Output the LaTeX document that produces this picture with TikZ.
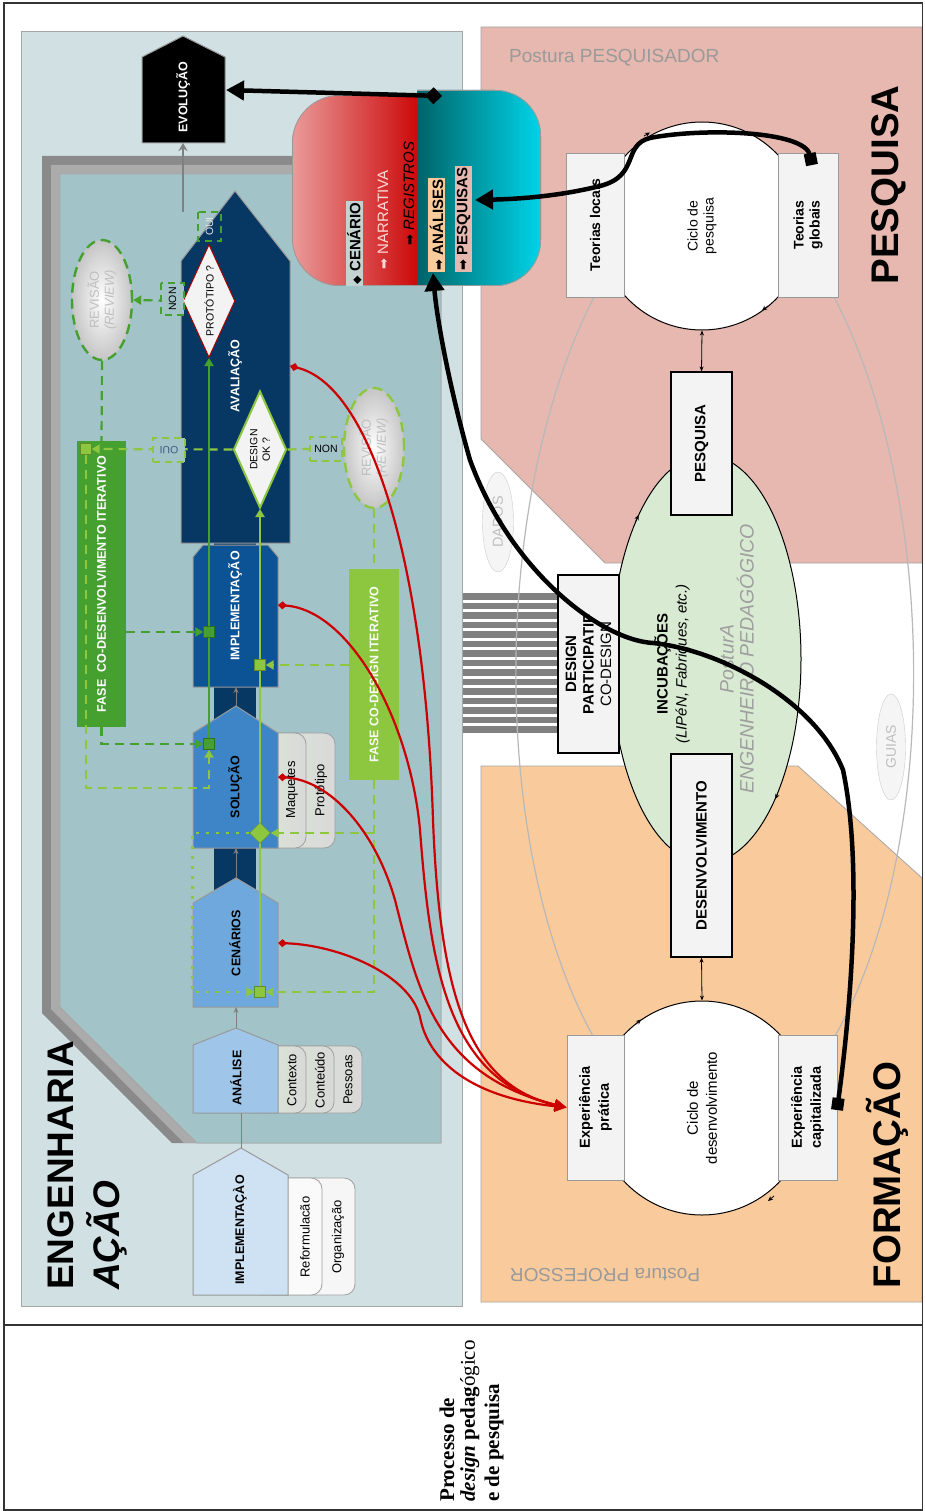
\documentclass[tikz,border=0pt]{standalone}
\usepackage{fontspec}
\setmainfont{Liberation Sans}
\newfontfamily\capfont{Liberation Serif}
\newfontfamily\symfont{DejaVu Sans}
\usetikzlibrary{arrows.meta,shapes.geometric,calc}
\pgfdeclarelayer{fg}
\pgfsetlayers{main,fg}
\newcommand\fsz[2]{\fontsize{#1}{#2}\selectfont}
\definecolor{panelA}{HTML}{D0E0E3}
\definecolor{panelB}{HTML}{A2C4C9}
\definecolor{bandD}{HTML}{8A8A8A}
\definecolor{bandL}{HTML}{ABABAB}
\definecolor{pesq}{HTML}{E6B8AF}
\definecolor{form}{HTML}{F9CB9C}
\definecolor{incub}{HTML}{D9EAD3}
\definecolor{boxg}{HTML}{F3F3F3}
\definecolor{cAval}{HTML}{073763}
\definecolor{cImpl}{HTML}{0B5394}
\definecolor{cSol}{HTML}{3D85C6}
\definecolor{cCen}{HTML}{6FA8DC}
\definecolor{cAna}{HTML}{9FC5E8}
\definecolor{cImpB}{HTML}{CFE2F3}
\definecolor{gD}{HTML}{45A02F}
\definecolor{gL}{HTML}{8DC63F}
\definecolor{redc}{HTML}{CC0000}
\definecolor{txtgray}{HTML}{9A9A9A}
\definecolor{redL}{HTML}{EA9A9A}
\definecolor{redR}{HTML}{CC0A0A}
\definecolor{cyL}{HTML}{006468}
\definecolor{cyR}{HTML}{00D4E8}
\definecolor{ouiblue}{HTML}{3B5B80}
\definecolor{arcgray}{HTML}{B8B8B8}
\tikzset{
 blocktxt/.style={rotate=90, font=\bfseries\fsz{12.5}{14}, inner sep=0},
 tabtxt/.style={rotate=90, font=\fsz{13}{15}, inner sep=0},
 tabshape/.style={draw=gray!75, rounded corners=11pt, line width=0.8pt},
 blockshape/.style={draw=gray!80, line width=1pt},
 chainarrow/.style={draw=gray, line width=1pt, -{Stealth[length=6pt,width=5pt]}},
 dashD/.style={draw=gD, line width=2.2pt, dash pattern=on 9pt off 6pt},
 dashL/.style={draw=gL, line width=2.2pt, dash pattern=on 9pt off 6pt},
 dotL/.style={draw=gL, line width=2.6pt, dash pattern=on 3pt off 7pt},
 tipG/.style={-{Triangle[length=8pt,width=9pt]}},
 sqD/.style={draw=gD!70!black, fill=gD, minimum size=11pt, inner sep=0},
 sqL/.style={draw=gL!70!black, fill=gL, minimum size=11pt, inner sep=0},
 bracketD/.style={draw=gD, line width=1.6pt, dash pattern=on 7pt off 5pt, fill=panelB, inner sep=1pt, font=\fsz{10.5}{12}},
 bracketL/.style={draw=gL, line width=1.6pt, dash pattern=on 7pt off 5pt, fill=panelB, inner sep=1pt, font=\fsz{10.5}{12}},
 revis/.style={ellipse, minimum width=60pt, minimum height=120pt, inner color=white, outer color=gray!45, line width=2.4pt, dash pattern=on 10pt off 6pt},
 revtxt/.style={rotate=90, align=center, text=gray!50, font=\fsz{13}{15}, inner sep=0},
 redcurve/.style={draw=redc, line width=2.2pt, {Diamond[length=9pt,width=8pt]}-{Triangle[length=12pt,width=11pt]}},
 blackcurve/.style={draw=black, line width=4.5pt},
 greybox/.style={draw=gray!80, fill=boxg, line width=0.8pt, inner sep=0},
 blackbox/.style={draw=black, fill=boxg, line width=1.2pt, inner sep=0},
 bigtitle/.style={rotate=90, font=\bfseries\fsz{38.5}{40}, inner sep=0},
 rottxt/.style={rotate=90, inner sep=0},
 boxlabel/.style={rotate=90, anchor=west, inner sep=1.5pt, font=\fsz{15}{17}},
 captxt/.style={rotate=90, anchor=west, inner sep=0, font=\capfont\bfseries\fsz{21}{23}},
 ticktip/.style={line width=0.8pt, -{Stealth[length=5pt,width=4.5pt]}},
}
\newcommand\bul{{\symfont\fsz{13}{15}➡}}
\begin{document}
\begin{tikzpicture}[x=1pt,y=-1pt]
\useasboundingbox (0,0) rectangle (924,1511);
\fill[white] (0,0) rectangle (924,1511);

% ---------- panels
\filldraw[fill=panelA, draw=gray!70, line width=0.8pt] (21,31) rectangle (462,1306);
\fill[bandD] (42,156) -- (441,156) -- (441,1143) -- (172,1143) -- (42,1013) -- cycle;
\fill[bandL] (51,165) -- (441,165) -- (441,1143) -- (184,1143) -- (51,1009) -- cycle;
\filldraw[fill=panelB, draw=gray!70, line width=0.8pt] (60,174) -- (441,174) -- (441,1143) -- (197,1143) -- (60,1007) -- cycle;
\filldraw[fill=pesq, draw=gray!70, line width=0.8pt] (481,27) -- (922,27) -- (922,563) -- (605,563) -- (481,439) -- cycle;
\filldraw[fill=form, draw=gray!70, line width=0.8pt] (481,766) -- (798,766) -- (922,878) -- (922,1302) -- (481,1302) -- cycle;

% ---------- frame
\draw[line width=1.5pt, black!80] (4,3) rectangle (922.5,1510);
\draw[line width=1.5pt, black!80] (4,1325) -- (922.5,1325);

% ---------- titles
\node[bigtitle, anchor=west, font=\bfseries\fsz{37}{40}] (engT) at (61,1290) {ENGENHARIA};
\node[bigtitle, anchor=west, font=\bfseries\itshape\fsz{37}{40}] (acaoT) at (107,1290) {AÇÃO};
\node[bigtitle] (pesqT) at (889,185) {PESQUISA};
\node[bigtitle] (formT) at (887,1175) {FORMAÇÃO};
\node[anchor=west, text=txtgray, font=\fsz{19}{21}, inner sep=0] (postP) at (509,57.5) {Postura PESQUISADOR};
\node[rotate=180, text=txtgray, font=\fsz{19}{21}, inner sep=0] (postF) at (605,1275) {Postura PROFESSOR};
\node[captxt] (cap1) at (447,1502) {Processo de};
\node[captxt] (cap2) at (470,1502) {\textit{design} pedag\textmd{ógico}};
\node[captxt] (cap3) at (494,1502) {e de pesquisa};

% ---------- stripes
\foreach \i in {0,...,14} \fill[black!50] (463,593+\i*9.53) rectangle (558,599.6+\i*9.53);

% ---------- grey arcs
\draw[arcgray, line width=1.2pt] (594,297) .. controls (490,500) and (490,850) .. (593,1036);
\draw[arcgray, line width=1.2pt] (834,297) .. controls (940,500) and (940,850) .. (835,1036);

% ---------- DADOS / GUIAS
\node[ellipse, draw=gray!40, fill=gray!8, minimum width=31pt, minimum height=100pt] (dados) at (498,522) {};
\node[rottxt, text=gray!50, font=\fsz{14.5}{16}] (dadosT) at (dados) {DADOS};
\node[ellipse, draw=gray!40, fill=gray!8, minimum width=29pt, minimum height=106pt] (guias) at (891,747) {};
\node[rottxt, text=gray!50, font=\fsz{14}{16}] (guiasT) at (guias) {GUIAS};

% ---------- research / development structure
\node[ellipse, draw=black, fill=incub, line width=1pt, minimum width=190pt, minimum height=408pt] (incE) at (706,659) {};
\node[circle, draw=black, fill=white, line width=1pt, minimum size=208pt, inner sep=0] (cpesq) at (702,226) {};
\node[circle, draw=black, fill=white, line width=1pt, minimum size=214pt, inner sep=0] (cdev) at (702,1108) {};
% small direction marks on the cycles
\draw[ticktip] (644,136) -- (650,132.5);
\draw[ticktip] (768,306) -- (762,310.5);
\draw[ticktip] (635.6,521.6) -- (638.5,515);
\draw[ticktip] (777.5,794) -- (775.4,799);
\draw[ticktip] (636,1024) -- (641,1019.5);
\draw[ticktip] (774,1196) -- (768,1201);
\node[greybox, minimum width=58pt, minimum height=144pt] (tloc) at (595,225) {};
\node[greybox, minimum width=60pt, minimum height=144pt] (tglob) at (808,225) {};
\node[greybox, minimum width=57pt, minimum height=145pt] (expP) at (595.5,1107.5) {};
\node[greybox, minimum width=59pt, minimum height=145pt] (expC) at (807.5,1107.5) {};
\node[blackbox, minimum width=61pt, minimum height=143pt] (pesqB) at (701.5,443.5) {};
\node[blackbox, minimum width=61pt, minimum height=203pt] (desB) at (701.5,855.5) {};
\node[blackbox, minimum width=61pt, minimum height=178pt] (dpart) at (588.5,664) {};
\draw[line width=0.8pt, {Stealth[length=5pt,width=4pt]}-{Stealth[length=5pt,width=4pt]}] (cpesq.south) -- (pesqB.north);
\draw[line width=0.8pt, {Stealth[length=5pt,width=4pt]}-{Stealth[length=5pt,width=4pt]}] (desB.south) -- (cdev.north);
\node[rottxt, font=\bfseries\fsz{14}{16}] (tlocT) at (tloc) {Teorias locais};
\node[rottxt, align=center, font=\bfseries\fsz{14}{16}] (tglobT) at (tglob) {Teorias\\globais};
\node[rottxt, align=center, font=\fsz{14}{16}] (cpesqT) at (cpesq) {Ciclo de\\pesquisa};
\node[rottxt, align=center, font=\bfseries\fsz{14.5}{19}] (expPT) at (expP) {Experiência\\prática};
\node[rottxt, align=center, font=\bfseries\fsz{14.5}{19}] (expCT) at (expC) {Experiência\\capitalizada};
\node[rottxt, align=center, font=\fsz{15}{19}] (cdevT) at (cdev) {Ciclo de\\desenvolvimento};
\node[rottxt, font=\bfseries\fsz{15}{17}] (pesqBT) at (pesqB) {PESQUISA};
\node[rottxt, font=\bfseries\fsz{15}{17}] (desBT) at (desB) {DESENVOLVIMENTO};
\node[rottxt, align=center, font=\fsz{15}{17.5}] (dpartT) at (dpart) {\textbf{DESIGN}\\\textbf{PARTICIPATIF}\\CO-DESIGN};
\node[rottxt, align=center, font=\fsz{15}{19}] (incT) at (672,664) {\textbf{INCUBAÇÕES}\\\textit{(LIPéN, Fabriques, etc.)}};
\node[rottxt, align=center, text=gray!75, font=\itshape\fsz{19.5}{20}] (postE) at (737,659) {PosturA\\ENGENHEIRO PEDAGÓGICO};

% ---------- engineering chain
\fill[cAval] (214,538) rectangle (256,550);
\fill[cAval] (214,685) rectangle (256,730);
\fill[cAval] (214,846) rectangle (256,895);
% tabs
\filldraw[tabshape, fill=gray!7] (262,1178) rectangle (355,1295);
\filldraw[tabshape, fill=gray!4] (250,1178) rectangle (322,1295);
\path[tabshape, left color=incub, right color=gray!30] (250,1046) rectangle (362,1113);
\path[tabshape, left color=incub, right color=gray!30] (250,1046) rectangle (334,1113);
\path[tabshape, left color=incub, right color=gray!30] (250,1046) rectangle (306,1113);
\path[tabshape, left color=incub, right color=gray!30] (250,733) rectangle (335,848);
\path[tabshape, left color=incub, right color=gray!30] (250,733) rectangle (306,848);
% blocks
\filldraw[blockshape, fill=cAval] (181,261) -- (235,191) -- (290,261) -- (290,543) -- (181,543) -- cycle;
\filldraw[blockshape, fill=cImpl] (193,557) -- (203,545) -- (268,545) -- (278,557) -- (278,687) -- (193,687) -- cycle;
\filldraw[blockshape, fill=cSol] (193,733) -- (236,706) -- (278,733) -- (278,848) -- (193,848) -- cycle;
\filldraw[blockshape, fill=cCen] (193,903) -- (236,878) -- (278,903) -- (278,1007) -- (193,1007) -- cycle;
\filldraw[blockshape, fill=cAna] (193,1045) -- (236,1028) -- (278,1045) -- (278,1113) -- (193,1113) -- cycle;
\filldraw[blockshape, fill=cImpB] (193,1175) -- (241,1148) -- (288,1175) -- (288,1295) -- (193,1295) -- cycle;
\filldraw[blockshape, fill=black] (142,57) -- (183,36) -- (225,57) -- (225,143) -- (142,143) -- cycle;
% block texts
\node[blocktxt, text=white] (avalT) at (235,376) {AVALIAÇÃO};
\node[blocktxt, text=white] (evolT) at (183,97) {EVOLUÇÃO};
\node[blocktxt, text=white] (implT) at (235,606) {IMPLEMENTAÇÃO};
\node[blocktxt] (solT) at (235,787) {SOLUÇÃO};
\node[blocktxt] (cenT) at (235,943) {CENÁRIOS};
\node[blocktxt] (anaT) at (236,1078) {ANÁLISE};
\node[blocktxt] (impBT) at (240,1230) {IMPLEMENTAÇÀO};
\node[tabtxt] (tRef) at (305,1237) {Reformulacão};
\node[tabtxt] (tOrg) at (338,1237) {Organização};
\node[tabtxt] (tCtx) at (292,1080) {Contexto};
\node[tabtxt] (tCon) at (320,1080) {Conteúdo};
\node[tabtxt] (tPes) at (348,1080) {Pessoas};
\node[tabtxt] (tMaq) at (292,790) {Maquetes};
\node[tabtxt] (tPro) at (321,790) {Protótipo};
% chain connectors
\coordinate (anaTop) at (236,1028); \coordinate (cenBot) at (236,1007);
\coordinate (cenTop) at (236,878); \coordinate (solBot) at (236,848);
\coordinate (solTop) at (236,706); \coordinate (implBot) at (236,687);
\coordinate (impBTop) at (241,1148); \coordinate (anaBot) at (241,1113);
\coordinate (avalTop) at (183,212); \coordinate (evolBot) at (183,143);
\draw[chainarrow] (anaTop) -- (cenBot);
\draw[chainarrow] (cenTop) -- (solBot);
\draw[chainarrow] (solTop) -- (implBot);
\draw[draw=gray, line width=1pt] (impBTop) -- (anaBot);
\draw[draw=gray, line width=2.5pt, -{Stealth[length=8pt,width=9pt]}] (avalTop) -- (evolBot);

% diamonds, revisions, phases
\node[diamond, draw=redc!80!black, fill=boxg, line width=1pt, minimum width=52pt, minimum height=113pt, inner sep=0] (proto) at (209,301) {};
\node[rottxt, font=\fsz{10.5}{12}] (protoT) at (proto) {PROTÓTIPO ?};
\node[diamond, draw=gL, fill=boxg, line width=2pt, minimum width=53pt, minimum height=117pt, inner sep=0] (dok) at (260,449.5) {};
\node[rottxt, align=center, font=\fsz{10.5}{12.5}] (dokT) at (dok) {DESIGN\\OK ?};
\node[revis, draw=gD] (rev1) at (102,300) {};
\node[revtxt] (rev1T) at (rev1) {REVISÃO\\\textit{(REVIEW)}};
\node[revis, draw=gL] (rev2) at (374,448) {};
\node[revtxt] (rev2T) at (rev2) {REVISÃO\\\textit{(REVIEW)}};
\node[fill=gD, minimum width=49pt, minimum height=286pt, inner sep=0] (fase1) at (101.5,584) {};
\node[rottxt, text=white, font=\bfseries\fsz{12.5}{14}] (fase1T) at (fase1) {FASE\ \ CO-DESENVOLVIMENTO ITERATIVO};
\node[fill=gL, minimum width=50pt, minimum height=211pt, inner sep=0] (fase2) at (374,674.5) {};
\node[rottxt, text=white!95!gL, font=\bfseries\fsz{12.5}{14}] (fase2T) at (fase2) {FASE CO-DESIGN ITERATIVO};

% squares & brackets on the front layer
\begin{pgfonlayer}{fg}
\node[sqL] (sqA) at (86,449) {};
\node[sqD] (sqD1) at (209,632) {};
\node[sqD] (sqD2) at (209,744) {};
\node[sqL] (sqB) at (260,665) {};
\node[sqL] (sqC) at (260,992) {};
\node[diamond, fill=gL, draw=gL!70!black, minimum width=21pt, minimum height=21pt, inner sep=0] (dmC) at (260,833) {};
\node[bracketD, rotate=90, fill=none, text=white!80!gray, minimum width=29pt, minimum height=23pt] (oui1) at (209.5,226.5) {OUI};
\node[bracketD, rotate=90, minimum width=32pt, minimum height=23pt] (non1) at (172.5,299) {NON};
\node[bracketL, rotate=180, text=ouiblue, minimum width=32pt, minimum height=24pt] (oui2) at (169,450) {OUI};
\node[bracketL, minimum width=32pt, minimum height=24pt] (non2) at (326,449) {NON};
\end{pgfonlayer}

% green connectors
\draw[dashD, tipG] (proto.west) -- (rev1.east);
\draw[dashD] (rev1.south) -- (fase1.north);
\draw[dashL, tipG] (dok.west) -- (sqA.east);
\draw[dashL] (dok.east) -- (rev2.west);
\draw[dashL] (rev2.south) -- (fase2.north);
\draw[dashL, tipG] (fase2.west |- sqB) -- (sqB.east);
\draw[dashL, tipG] (fase2.south) |- (sqC.east);
\draw[dashL, tipG] (fase2.south |- dmC) -- (dmC.east);
\draw[dotL, tipG] (dmC.west) -- ++(-57,0) |- (sqC.west);
\draw[dashD, tipG] (fase1.east |- sqD1) -- (sqD1.west);
\draw[dashD, tipG] (fase1.south) |- (sqD2.west);
\draw[dashL, tipG] (sqA.south) |- ($(sqD2.south)+(0,38)$) -- (sqD2.south);
\draw[draw=gD, line width=2pt, tipG] (sqD2.north) -- (proto.south);
\draw[draw=gL, line width=2pt, tipG] (sqC.north) -- (dok.south);

% ---------- narrative / records box
\begin{scope}
 \clip (280,80) rectangle (417,300);
 \clip[rounded corners=48pt] (292,95) rectangle (600,286);
 \shade[left color=redL, right color=redR] (292,95) rectangle (417,286);
 \draw[gray!80, line width=1.6pt, rounded corners=48pt] (292,95) rectangle (600,286);
\end{scope}
\begin{scope}
 \clip (417,80) rectangle (560,300);
 \clip[rounded corners=46pt] (250,90) rectangle (541,286);
 \shade[left color=cyL, right color=cyR] (417,90) rectangle (541,286);
 \draw[gray!80, line width=1.6pt, rounded corners=46pt] (250,90) rectangle (541,286);
\end{scope}
\node[boxlabel, fill=panelA!85!gray, font=\bfseries\fsz{15}{17}] (lCen) at (354.5,286) {{\symfont\fsz{11}{13}◆} CENÁRIO};
\node[boxlabel, text=red!15!white] (lNar) at (383,271) {\bul{} NARRATIVA};
\node[boxlabel] (lReg) at (409,247) {\bul{} \textit{REGISTROS}};
\node[boxlabel, fill=form, font=\bfseries\fsz{15}{17}] (lAna) at (436.5,272) {\bul{} ANÁLISES};
\node[boxlabel, fill=pesq, font=\bfseries\fsz{15}{17}] (lPes) at (463.5,272) {\bul{} PESQUISAS};

% ---------- red and black connectors
\begin{pgfonlayer}{fg}
\coordinate (rA) at (290,366);
\coordinate (rI) at (278,605);
\coordinate (rS) at (278,777);
\coordinate (rC) at (278,943);
\draw[redcurve] (rA) .. controls (370,385) and (425,560) .. (433,820) .. controls (440,1000) and (470,1085) .. (expP.west);
\draw[redcurve] (rI) .. controls (350,610) and (410,720) .. (420,830) .. controls (430,960) and (445,1080) .. (expP.west);
\draw[redcurve] (rS) .. controls (330,780) and (375,830) .. (395,900) .. controls (418,990) and (435,1075) .. (expP.west);
\draw[redcurve] (rC) .. controls (340,945) and (410,975) .. (420,1017) .. controls (428,1060) and (470,1097) .. (expP.west);
\coordinate (regTop) at (442,96);
\coordinate (evolR) at (226,90);
\coordinate (tglobTop) at (812,165);
\coordinate (pesqL) at (475,200);
\coordinate (expCap) at (837,1110);
\coordinate (anlBot) at (433,273);
\draw[blackcurve, {Diamond[length=17pt,width=17pt]}-{Triangle[length=18pt,width=19pt]}] (regTop) -- (evolR);
\draw[blackcurve, {Square[length=12pt,width=12pt]}-{Triangle[length=18pt,width=19pt]}] (tglobTop) .. controls (805,130) and (700,128) .. (650,138) .. controls (622,145) and (640,176) .. (600,186) .. controls (560,196) and (520,199) .. (pesqL);
\draw[blackcurve, {Square[length=12pt,width=12pt]}-{Triangle[length=18pt,width=19pt]}] (expCap) .. controls (852,1000) and (862,860) .. (843,770) .. controls (815,700) and (720,650) .. (653,643) .. controls (600,640) and (510,570) .. (470,460) .. controls (450,390) and (437,320) .. (anlBot);
\end{pgfonlayer}
\end{tikzpicture}
\end{document}
